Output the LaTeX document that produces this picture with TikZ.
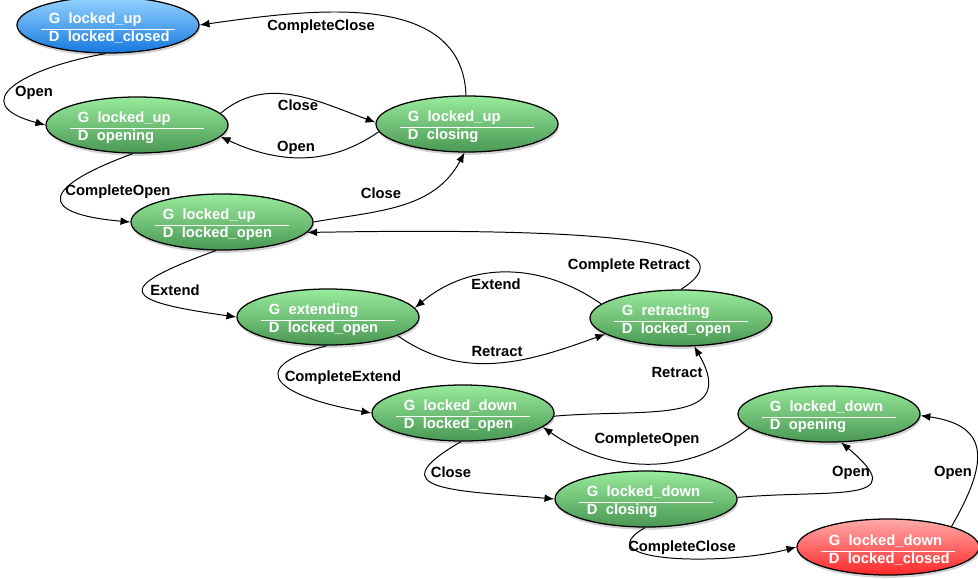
\documentclass[tikz,border=0pt]{standalone}
\usepackage{fontspec}
\setmainfont{Liberation Sans}
\usetikzlibrary{shapes.geometric,arrows.meta,shadows}

\definecolor{blueTop}{RGB}{150,212,255}
\definecolor{blueBot}{RGB}{22,120,222}
\definecolor{greenTop}{RGB}{152,234,156}
\definecolor{greenBot}{RGB}{74,152,84}
\definecolor{redTop}{RGB}{255,170,170}
\definecolor{redBot}{RGB}{255,40,40}

\newcommand{\gdstate}[2]{\makebox[80pt][c]{\begin{minipage}{95pt}
    \vspace*{4pt}
    \hspace*{5.5pt}G~~#1\\[-8pt]
    \rule{95pt}{0.8pt}\\[-4.5pt]
    \hspace*{5.5pt}D~~#2
\end{minipage}}}

\tikzset{
    st/.style={ellipse, draw=black, line width=0.9pt, inner sep=0pt,
        minimum width=4.55cm, minimum height=1.4cm, text=white,
        drop shadow={opacity=0.35, shadow xshift=0.6pt, shadow yshift=-2pt}},
    stblue/.style={st, top color=blueTop, bottom color=blueBot},
    stgreen/.style={st, top color=greenTop, bottom color=greenBot},
    stred/.style={st, top color=redTop, bottom color=redBot},
    lbl/.style={text=black, inner sep=1pt},
    tr/.style={-{Latex[length=7pt,width=5.5pt]}, line width=0.7pt}
}

\begin{document}
\begin{tikzpicture}[x=0.025cm, y=0.025cm, font=\fontsize{10.5}{12.6}\selectfont\bfseries]
    \useasboundingbox (0,0) rectangle (978,-578);

    \node[stblue] (upClosed) at (108,-25) {\gdstate{locked\_up}{locked\_closed}};
    \node[stgreen] (upOpening) at (137,-125) {\gdstate{locked\_up}{opening}};
    \node[stgreen] (upClosing) at (467,-124) {\gdstate{locked\_up}{closing}};
    \node[stgreen] (upOpen) at (222,-222) {\gdstate{locked\_up}{locked\_open}};
    \node[stgreen] (extending) at (328,-317) {\gdstate{extending}{locked\_open}};
    \node[stgreen] (retracting) at (681,-318) {\gdstate{retracting}{locked\_open}};
    \node[stgreen] (downOpen) at (463,-413) {\gdstate{locked\_down}{locked\_open}};
    \node[stgreen] (downOpening) at (829,-414) {\gdstate{locked\_down}{opening}};
    \node[stgreen] (downClosing) at (646,-499) {\gdstate{locked\_down}{closing}};
    \node[stred] (downClosed) at (888,-547) {\gdstate{locked\_down}{locked\_closed}};

    \node[lbl] (lCompleteClose) at (321,-27) {CompleteClose};
    \node[lbl] (lOpenA) at (34,-93) {Open};
    \node[lbl] (lCloseA) at (298,-105) {Close};
    \node[lbl] (lOpenB) at (296,-148) {Open};
    \node[lbl] (lCompleteOpen) at (118,-192) {CompleteOpen};
    \node[lbl] (lCloseB) at (381,-193) {Close};
    \node[lbl] (lCompleteRetract) at (629,-266) {Complete Retract};
    \node[lbl] (lExtendA) at (175,-290) {Extend};
    \node[lbl] (lExtendB) at (496,-284) {Extend};
    \node[lbl] (lRetractA) at (497,-351) {Retract};
    \node[lbl] (lCompleteExtend) at (343,-378) {CompleteExtend};
    \node[lbl] (lRetractB) at (677,-372) {Retract};
    \node[lbl] (lCompleteOpenB) at (647,-440) {CompleteOpen};
    \node[lbl] (lCloseC) at (451,-472) {Close};
    \node[lbl] (lOpenC) at (851,-473) {Open};
    \node[lbl] (lCompleteCloseB) at (682,-548) {CompleteClose};
    \node[lbl] (lOpenD) at (953,-473) {Open};

    \draw[tr] (upClosing.92) to[out=92, in=8] (upClosed.east);
    \draw[tr] (upClosed.265) to[out=190, in=165, looseness=2.3] (upOpening.west);
    \draw[tr] (upOpening.8) to[out=40, in=160] (upClosing.179);
    \draw[tr] (upClosing.185) to[out=215, in=-25] (upOpening.352);
    \draw[tr] (upOpening.262) to[out=200, in=175, looseness=3.6] (upOpen.west);
    \draw[tr] (upOpen.0) to[out=10, in=242] (upClosing.265);
    \draw[tr] (retracting.90) .. controls +(78,50) and +(285,5) .. (upOpen.353);
    \draw[tr] (upOpen.258) to[out=200, in=172, looseness=4.2] (extending.west);
    \draw[tr] (retracting.170) to[out=145, in=40] (extending.6);
    \draw[tr] (extending.345) to[out=-35, in=200] (retracting.192);
    \draw[tr] (extending.268) to[out=195, in=170, looseness=2.9] (downOpen.west);
    \draw[tr] (downOpen.358) to[out=5, in=-60, looseness=1.5] (retracting.295);
    \draw[tr] (downOpening.190) to[out=218, in=-35] (downOpen.350);
    \draw[tr] (downOpen.266) to[out=210, in=175, looseness=2.3] (downClosing.west);
    \draw[tr] (downClosing.1) to[out=5, in=-40, looseness=2.1] (downOpening.293);
    \draw[tr] (downClosing.268) to[out=210, in=195, looseness=1.2] (downClosed.west);
    \draw[tr] (downClosed.18) to[out=60, in=-8, looseness=1.6] (downOpening.359);
\end{tikzpicture}
\end{document}
